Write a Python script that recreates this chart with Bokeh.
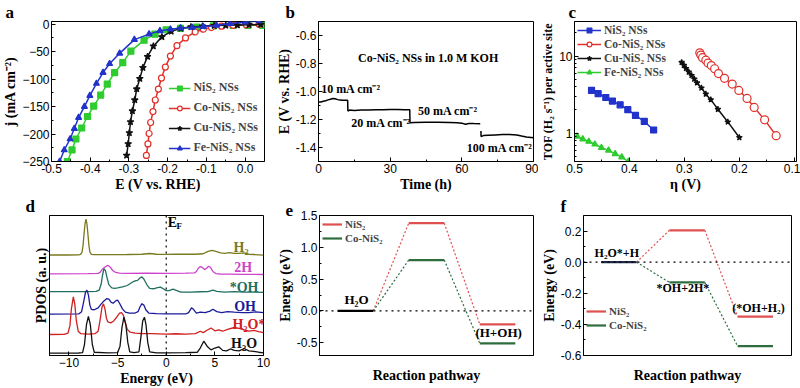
import math
from bokeh.plotting import figure
from bokeh.layouts import column, row
from bokeh.models import (Range1d, FixedTicker, PrintfTickFormatter, Label, Span,
                          Legend, LegendItem)
from bokeh.embed import file_html
from bokeh.resources import INLINE

SERIF = "Liberation Serif"
SANS = "Liberation Sans"
nan = float("nan")

# ---------------- data ----------------
# (a) HER polarization curves: E (V vs RHE), j (mA cm-2)
a_E_nis2 = [-0.459, -0.447, -0.437, -0.422, -0.407, -0.391, -0.373, -0.356, -0.337, -0.316,
            -0.295, -0.261, -0.233, -0.204, -0.167, -0.125, -0.082, -0.031, 0.007, 0.045]
a_j_nis2 = [-250, -229, -209, -189, -168, -149, -129, -109, -88, -70,
            -49, -29, -18, -10, -7.5, -5, -3, -2, -2, -2]
a_E_co = [-0.255, -0.251, -0.248, -0.244, -0.238, -0.232, -0.224, -0.216, -0.206, -0.193,
          -0.176, -0.154, -0.129, -0.108, -0.087, -0.061, -0.031, 0.003, 0.036]
a_j_co = [-239, -218, -199, -179, -159, -138, -118, -98, -78, -58,
          -39, -25, -14, -9, -6, -3.5, -2, -1, 0]
a_E_cu = [-0.306, -0.302, -0.299, -0.296, -0.291, -0.285, -0.280, -0.272, -0.264, -0.252,
          -0.237, -0.215, -0.191, -0.166, -0.14, -0.11, -0.08, -0.05, -0.02, 0.01, 0.04]
a_j_cu = [-239, -218, -198, -178, -158, -138, -118, -99, -79, -59,
          -40, -23, -13, -7.5, -5, -3.5, -2.5, -2, -1.5, -1, -0.5]
a_E_fe = [-0.479, -0.467, -0.452, -0.441, -0.430, -0.415, -0.401, -0.384, -0.367, -0.350,
          -0.324, -0.286, -0.248, -0.220, -0.193, -0.167, -0.137, -0.108, -0.074, -0.040, 0.0, 0.036]
a_j_fe = [-250, -229, -209, -190, -170, -150, -130, -108, -88, -72,
          -53, -28, -18, -12, -9, -7, -6, -4.6, -2, 1, 4, 6]
a_xticks = [-0.5, -0.4, -0.3, -0.2, -0.1, 0.0]
a_yticks = [0, -50, -100, -150, -200, -250]

# (b) chronopotentiometry of Co-NiS2 NSs: time (h), E (V vs RHE)
b_t = [0, 1, 2, 3, 4, 5, 6, 7, 8, 9, 10, 11, 12.2,
       12.3, 13, 15, 18, 21, 24, 27, 30, 33, 36, 38.2,
       38.3, 40, 45, 50, 55, 58, 60, 61.5, 63, 65, 67.7,
       nan,
       68, 68.05, 69, 71, 74, 77, 80, 83, 85, 87, 90]
b_E = [-1.075, -1.075, -1.07, -1.066, -1.06, -1.055, -1.05, -1.052, -1.058, -1.06, -1.062, -1.063, -1.063,
       -1.14, -1.133, -1.135, -1.133, -1.132, -1.13, -1.13, -1.128, -1.128, -1.13, -1.13,
       -1.224, -1.222, -1.22, -1.22, -1.222, -1.224, -1.226, -1.234, -1.228, -1.229, -1.23,
       nan,
       -1.282, -1.322, -1.315, -1.313, -1.31, -1.308, -1.308, -1.31, -1.318, -1.325, -1.33]
b_xticks = [0, 30, 60, 90]
b_yticks = [-0.6, -0.8, -1.0, -1.2, -1.4]

# (c) TOF vs overpotential
c_eta_nis2 = [0.469, 0.457, 0.443, 0.431, 0.417, 0.403, 0.389, 0.373, 0.356]
c_tof_nis2 = [3.58, 3.25, 2.90, 2.61, 2.33, 2.02, 1.70, 1.42, 1.10]
c_eta_co = [0.272, 0.270, 0.267, 0.261, 0.257, 0.251, 0.245, 0.238, 0.227, 0.213,
            0.201, 0.186, 0.173, 0.154, 0.133]
c_tof_co = [11.0, 10.3, 9.53, 8.84, 8.11, 7.52, 6.84, 5.93, 5.14, 4.33,
            3.58, 2.82, 2.16, 1.49, 0.93]
c_eta_cu = [0.305, 0.301, 0.297, 0.292, 0.287, 0.282, 0.277, 0.269, 0.261, 0.252, 0.239, 0.221, 0.200]
c_tof_cu = [8.27, 7.59, 6.90, 6.21, 5.60, 5.04, 4.49, 3.86, 3.22, 2.72, 2.04, 1.40, 0.88]
c_eta_fe = [0.495, 0.485, 0.474, 0.463, 0.451, 0.438, 0.426, 0.414, 0.402]
c_tof_fe = [0.91, 0.84, 0.78, 0.72, 0.65, 0.60, 0.54, 0.49, 0.43]
c_xticks = [0.5, 0.4, 0.3, 0.2, 0.1]
c_yticks = [1, 10]

# (d) PDOS curves (energy eV, stacked intensity a.u.)
d_h2 = [(-12, 107.7), (-10, 107.7), (-9, 107.8), (-8.8, 108.3), (-8.65, 111), (-8.55, 118), (-8.45, 130),
        (-8.35, 141), (-8.25, 146), (-8.15, 141), (-8.05, 130), (-7.95, 118), (-7.85, 111), (-7.7, 108.3),
        (-7.4, 108), (-6, 108), (-4, 108.2), (-2.5, 108.5), (-1.7, 109.3), (-1, 108.5), (0, 108.3),
        (1, 108.5), (2, 108.6), (3, 108.5), (3.8, 109), (4.3, 111.5), (4.7, 112.7), (5.1, 111.5),
        (5.6, 110), (6.0, 109.5), (6.5, 110.2), (7.0, 109.5), (7.5, 109.5), (8.0, 110), (8.5, 108.5),
        (9.0, 108.2), (10, 107.5)]
d_2h = [(-12, 87.5), (-8, 87.7), (-7.0, 88), (-6.8, 89), (-6.6, 92), (-6.4, 94), (-6.25, 95), (-6.05, 96.5),
        (-5.9, 96), (-5.7, 94), (-5.5, 91), (-5.2, 89), (-4.8, 88.3), (-4.0, 88), (-2, 88.2), (0, 88),
        (2, 88.3), (2.9, 88.5), (3.1, 90), (3.3, 93.5), (3.5, 95.3), (3.7, 94.5), (3.95, 92), (4.15, 93.5),
        (4.35, 95.6), (4.55, 94.5), (4.8, 90), (5.1, 87.8), (5.5, 87.3), (6.5, 87.2), (8, 87), (10, 86.8)]
d_ohads = [(-12, 68.5), (-8, 68.5), (-7.2, 68.7), (-6.9, 70), (-6.7, 76), (-6.55, 86), (-6.4, 93), (-6.25, 91),
           (-6.1, 84), (-5.9, 76), (-5.6, 72.5), (-5.3, 72), (-5.0, 72.5), (-4.5, 73.5), (-4.0, 75),
           (-3.5, 78.5), (-3.2, 80), (-2.95, 80.5), (-2.7, 83), (-2.5, 84.3), (-2.3, 82), (-2.0, 76),
           (-1.7, 72), (-1.3, 71.5), (-0.9, 72.8), (-0.6, 73.3), (-0.3, 71.5), (0, 69.5), (0.3, 69.5),
           (0.7, 71), (1.1, 69.5), (1.5, 68), (2.5, 68), (3.5, 68.3), (4.3, 68.5), (4.8, 70), (5.2, 68.8),
           (6, 68), (7, 68.5), (8, 68), (9, 68), (10, 67.7)]
d_oh = [(-12, 44.3), (-9, 44.5), (-8.7, 47), (-8.5, 57), (-8.3, 68), (-8.15, 70), (-8.0, 65), (-7.85, 54),
        (-7.7, 49.5), (-7.4, 49), (-7.0, 51), (-6.7, 55), (-6.4, 58.5), (-6.1, 61), (-5.9, 60.5),
        (-5.65, 57), (-5.45, 56), (-5.2, 58.5), (-5.0, 59.3), (-4.8, 56), (-4.5, 50), (-4.2, 46.5),
        (-3.8, 45.5), (-3.2, 45.5), (-2.9, 47), (-2.7, 52), (-2.5, 55.5), (-2.3, 54), (-2.1, 49),
        (-1.8, 45.5), (-1.0, 44.8), (0, 44.5), (1, 44.5), (2.0, 44.5), (2.3, 46), (2.6, 51), (2.8, 49.5),
        (3.1, 45.5), (3.5, 46.5), (4.0, 46), (4.5, 47.5), (4.8, 49.5), (5.2, 47), (5.7, 46), (6.3, 47),
        (7.0, 46.5), (7.8, 46), (8.5, 46), (9.2, 46.8), (10, 46)]
d_h2oads = [(-12, 22.5), (-10.5, 22.7), (-10.1, 24), (-9.9, 32), (-9.75, 50), (-9.55, 62.7), (-9.4, 55),
            (-9.25, 38), (-9.05, 26), (-8.8, 23.5), (-8, 23), (-7.3, 23.5), (-7.0, 26), (-6.8, 38),
            (-6.6, 52), (-6.45, 55.3), (-6.3, 50), (-6.15, 40), (-6.0, 36), (-5.7, 35), (-5.4, 37),
            (-5.1, 41), (-4.8, 45.5), (-4.6, 46), (-4.4, 43), (-4.2, 35), (-4.0, 28), (-3.7, 25),
            (-3.2, 24), (-2.5, 23.5), (-1.5, 23.5), (0, 23), (1.0, 23.3), (2.0, 23), (3.0, 23.5),
            (3.5, 26), (3.8, 24.5), (4.2, 27), (4.6, 29.5), (5.0, 26.5), (5.4, 27.5), (5.8, 26),
            (6.3, 28), (7.0, 30), (7.5, 29), (8.0, 27.5), (8.5, 26), (9.0, 27), (9.5, 25.5), (10, 24.5)]
d_h2o = [(-12, 2.5), (-9, 2.7), (-8.6, 3), (-8.4, 12), (-8.2, 33), (-8.0, 42), (-7.8, 33), (-7.6, 12),
         (-7.4, 3.5), (-6, 2.8), (-5.0, 3), (-4.75, 10), (-4.55, 30), (-4.35, 41), (-4.15, 33),
         (-3.95, 14), (-3.75, 4), (-3.3, 3), (-2.8, 4), (-2.6, 20), (-2.42, 37), (-2.24, 41),
         (-2.08, 33), (-1.9, 14), (-1.7, 4), (-1, 2.8), (0, 2.8), (2, 3), (3.2, 3.5), (3.5, 8),
         (3.86, 15.3), (4.2, 10), (4.6, 6), (5.0, 8), (5.4, 9.3), (5.8, 5.5), (6.2, 5), (6.6, 7),
         (7.0, 5.5), (7.5, 5), (8.0, 7.5), (8.5, 5), (9.0, 4.5), (9.5, 3.5), (10, 2.8)]
d_names = ["H\u2082", "2H", "*OH", "OH", "H\u2082O*", "H\u2082O"]
d_xticks = [-10, -5, 0, 5, 10]

# (e) water dissociation energy profile (eV)
e_labels = ["H\u2082O", "", "(H+OH)"]
e_nis2 = [0.0, 1.38, -0.21]
e_conis2 = [0.0, 0.80, -0.51]
e_yticks = [-0.5, 0.0, 0.5, 1.0, 1.5]

# (f) H2 formation energy profile (eV)
f_labels = ["H\u2082O*+H", "*OH+2H*", "(*OH+H\u2082)"]
f_nis2 = [0.0, 0.205, -0.35]
f_conis2 = [0.0, -0.13, -0.54]
f_yticks = [-0.6, -0.4, -0.2, 0.0, 0.2]

# ---------------- colours ----------------
C_GREEN = "#2ecc2e"
C_RED = "#e0302a"
C_BLUE = "#2233cc"
C_BLACK = "#111111"
C_LV_RED = "#e05050"
C_LV_GREEN = "#2e6e3e"
D_COLORS = ["#7a7a20", "#cc44cc", "#1f6f60", "#1a1a9a", "#d02020", "#111111"]


def make_fig(w, h, xr, yr, bl, br, bb, letter, offset, y_axis_type="linear"):
    p = figure(width=w, height=h, x_range=xr, y_range=yr, y_axis_type=y_axis_type,
               output_backend="svg", toolbar_location=None, title=letter,
               min_border_left=bl, min_border_right=br, min_border_top=0, min_border_bottom=bb)
    p.title.align = "left"
    p.title.offset = offset
    p.title.standoff = 0
    p.title.text_font = SERIF
    p.title.text_font_style = "bold"
    p.title.text_font_size = "17px"
    p.title.text_color = "black"
    p.outline_line_color = "black"
    p.outline_line_width = 1
    p.outline_line_alpha = 1
    p.grid.visible = False
    p.background_fill_color = "white"
    p.border_fill_color = "white"
    for ax in p.axis:
        ax.axis_line_color = "black"
        ax.major_tick_in = 4
        ax.major_tick_out = 0
        ax.minor_tick_in = 2
        ax.minor_tick_out = 0
        ax.major_tick_line_color = "black"
        ax.minor_tick_line_color = "black"
        ax.major_label_text_font = SANS
        ax.major_label_text_font_size = "12px"
        ax.major_label_text_color = "black"
        ax.axis_label_text_font = SERIF
        ax.axis_label_text_font_style = "bold"
        ax.axis_label_text_font_size = "14px"
        ax.axis_label_text_color = "black"
        ax.major_label_standoff = 2
        ax.axis_label_standoff = 1
    return p


def style_legend(lg, size="12px", gw=24, spacing=5):
    lg.background_fill_alpha = 0
    lg.border_line_alpha = 0
    lg.label_text_font = SERIF
    lg.label_text_font_style = "bold"
    lg.label_text_font_size = size
    lg.glyph_height = 12
    lg.glyph_width = gw
    lg.label_height = 12
    lg.label_standoff = 3
    lg.spacing = spacing
    lg.padding = 2
    lg.margin = 4


def text(p, x, y, t, size="12px", color="black", align="left", baseline="middle"):
    p.add_layout(Label(x=x, y=y, text=t, text_font=SERIF, text_font_style="bold",
                       text_font_size=size, text_color=color, text_align=align,
                       text_baseline=baseline))


TOP_H = 194
BOT_H = 194
BB_TOP = 31
BB_BOT = 33

# ---------------- (a) ----------------
pa = make_fig(270, TOP_H, Range1d(-0.5, 0.05), Range1d(-250, 5), 49, 6, BB_TOP, "a", -46)
pa.xaxis.ticker = FixedTicker(ticks=a_xticks, minor_ticks=[-0.45, -0.35, -0.25, -0.15, -0.05])
pa.yaxis.ticker = FixedTicker(ticks=a_yticks, minor_ticks=[-25, -75, -125, -175, -225])
pa.xaxis.formatter = PrintfTickFormatter(format="%.1f")
pa.xaxis.axis_label = "E (V vs. RHE)"
pa.yaxis.axis_label = "j (mA cm\u207b\u00b2)"
series_a = [
    (a_E_nis2, a_j_nis2, C_GREEN, "square", C_GREEN, "NiS\u2082 NSs"),
    (a_E_co, a_j_co, C_RED, "circle", "white", "Co-NiS\u2082 NSs"),
    (a_E_cu, a_j_cu, C_BLACK, "star", C_BLACK, "Cu-NiS\u2082 NSs"),
    (a_E_fe, a_j_fe, C_BLUE, "triangle", C_BLUE, "Fe-NiS\u2082 NSs"),
]
items = []
for xs, ys, col, mk, fill, lab in series_a:
    r1 = pa.line(xs, ys, line_color=col, line_width=1.5)
    r2 = pa.scatter(xs, ys, marker=mk, size=6 if mk != "star" else 7, line_color=col,
                    fill_color=fill, line_width=1.2)
    items.append(LegendItem(label=lab, renderers=[r1, r2]))
lga = Legend(items=items, location="bottom_right")
style_legend(lga, gw=22, spacing=5)
pa.add_layout(lga)

# ---------------- (b) ----------------
pb = make_fig(268, TOP_H, Range1d(0, 90), Range1d(-1.5, -0.5), 48, 5, BB_TOP, "b", -33)
pb.xaxis.ticker = FixedTicker(ticks=b_xticks, minor_ticks=[15, 45, 75])
pb.yaxis.ticker = FixedTicker(ticks=b_yticks, minor_ticks=[-0.5, -0.7, -0.9, -1.1, -1.3, -1.5])
pb.yaxis.formatter = PrintfTickFormatter(format="%.1f")
pb.xaxis.axis_label = "Time (h)"
pb.yaxis.axis_label = "E (V vs. RHE)"
pb.line(b_t, b_E, line_color="black", line_width=1.5)
text(pb, 45.9, -0.758, "Co-NiS\u2082 NSs in 1.0 M KOH", size="12px", align="center")
text(pb, 1.1, -0.984, "10 mA cm\u207b\u00b2", size="12px")
text(pb, 13.7, -1.222, "20 mA cm\u207b\u00b2", size="12px")
text(pb, 41.7, -1.14, "50 mA cm\u207b\u00b2", size="12px")
text(pb, 62.1, -1.404, "100 mA cm\u207b\u00b2", size="12px")

# ---------------- (c) ----------------
pc = make_fig(262, TOP_H, Range1d(0.5, 0.096), Range1d(0.43, 28), 36, 4, BB_TOP, "c", -6,
              y_axis_type="log")
pc.xaxis.ticker = FixedTicker(ticks=c_xticks, minor_ticks=[0.45, 0.35, 0.25, 0.15])
pc.yaxis.ticker = FixedTicker(ticks=c_yticks,
                              minor_ticks=[0.5, 0.6, 0.7, 0.8, 0.9, 2, 3, 4, 5, 6, 7, 8, 9, 20])
pc.xaxis.formatter = PrintfTickFormatter(format="%.1f")
pc.yaxis.formatter = PrintfTickFormatter(format="%g")
pc.xaxis.axis_label = "\u03b7 (V)"
pc.yaxis.axis_label = "TOF (H\u2082 s\u207b\u00b9) per active site"
pc.yaxis.axis_label_text_font_size = "12px"
series_c = [
    (c_eta_nis2, c_tof_nis2, C_BLUE, "square", C_BLUE, "NiS\u2082 NSs"),
    (c_eta_co, c_tof_co, C_RED, "circle", "white", "Co-NiS\u2082 NSs"),
    (c_eta_cu, c_tof_cu, C_BLACK, "star", C_BLACK, "Cu-NiS\u2082 NSs"),
    (c_eta_fe, c_tof_fe, C_GREEN, "triangle", C_GREEN, "Fe-NiS\u2082 NSs"),
]
items = []
for xs, ys, col, mk, fill, lab in series_c:
    r1 = pc.line(xs, ys, line_color=col, line_width=1.5)
    r2 = pc.scatter(xs, ys, marker=mk, size=6 if mk != "circle" else 8, line_color=col,
                    fill_color=fill, line_width=1.2)
    items.append(LegendItem(label=lab, renderers=[r1, r2]))
lgc = Legend(items=items, location="top_left")
style_legend(lgc, size="11.5px", gw=24, spacing=2)
lgc.margin = 2
lgc.padding = 1
pc.add_layout(lgc)

# ---------------- (d) ----------------
pd_ = make_fig(270, BOT_H, Range1d(-12, 10), Range1d(0, 150), 49, 7, BB_BOT, "d", -24)
pd_.xaxis.ticker = FixedTicker(ticks=d_xticks, minor_ticks=[-12.5, -7.5, -2.5, 2.5, 7.5])
pd_.yaxis.ticker = FixedTicker(ticks=[])
pd_.xaxis.axis_label = "Energy (eV)"
pd_.yaxis.axis_label = "PDOS (a. u.)"
d_curves = [d_h2, d_2h, d_ohads, d_oh, d_h2oads, d_h2o]
d_label_pos = [(7.7, 116), (7.9, 94), (8.0, 73), (8.1, 53), (8.5, 33), (8.0, 13)]
for curve, col, name, (lx, ly) in zip(d_curves, D_COLORS, d_names, d_label_pos):
    xs = [c[0] for c in curve]
    ys = [c[1] for c in curve]
    pd_.line(xs, ys, line_color=col, line_width=1.3)
    text(pd_, lx, ly, name, size="14px", color=col, align="center")
pd_.add_layout(Span(location=0, dimension="height", line_color="black", line_width=1.2,
                    line_dash="dotted"))
text(pd_, 0.15, 135, "E", size="14px", baseline="bottom")
text(pd_, 1.05, 133, "F", size="9px", baseline="bottom")

# ---------------- (e) ----------------
pe = make_fig(268, BOT_H, Range1d(0, 10), Range1d(-0.7, 1.5), 49, 5, BB_BOT, "e", -34)
pe.xaxis.ticker = FixedTicker(ticks=[])
pe.xaxis.axis_label_standoff = 12
pe.yaxis.ticker = FixedTicker(ticks=e_yticks, minor_ticks=[-0.25, 0.25, 0.75, 1.25])
pe.yaxis.formatter = PrintfTickFormatter(format="%.1f")
pe.xaxis.axis_label = "Reaction pathway"
pe.yaxis.axis_label = "Energy (eV)"
pe.add_layout(Span(location=0, dimension="width", line_color="black", line_width=1.2,
                   line_dash="dotted"))


def profile(p, centers, hw, vals_red, vals_green, first_color):
    rr = rg = None
    for vals, col in ((vals_red, C_LV_RED), (vals_green, C_LV_GREEN)):
        for i in range(len(vals) - 1):
            p.line([centers[i] + hw, centers[i + 1] - hw], [vals[i], vals[i + 1]],
                   line_color=col, line_width=1.2, line_dash="2 2")
        r = p.segment(x0=[c - hw for c in centers[1:]], x1=[c + hw for c in centers[1:]],
                      y0=vals[1:], y1=vals[1:], line_color=col, line_width=2.2)
        if col == C_LV_RED:
            rr = r
        else:
            rg = r
    p.segment(x0=[centers[0] - hw], x1=[centers[0] + hw], y0=[vals_red[0]], y1=[vals_red[0]],
              line_color=first_color, line_width=2.2)
    return rr, rg


e_centers = [1.68 + 3.32 * i for i in range(3)]
rr, rg = profile(pe, e_centers, 0.83, e_nis2, e_conis2, "black")
lge = Legend(items=[LegendItem(label="NiS\u2082", renderers=[rr]),
                    LegendItem(label="Co-NiS\u2082", renderers=[rg])], location="top_left")
style_legend(lge, size="11px", gw=20, spacing=2)
lge.margin = 1
pe.add_layout(lge)
text(pe, e_centers[0] + 0.05, 0.07, e_labels[0], size="13px", align="center", baseline="bottom")
text(pe, e_centers[2] + 0.05, -0.345, e_labels[2], size="13px", align="center")

# ---------------- (f) ----------------
pf = make_fig(262, BOT_H, Range1d(0, 10), Range1d(-0.6, 0.3), 37, 9, BB_BOT, "f", -23)
pf.xaxis.ticker = FixedTicker(ticks=[])
pf.xaxis.axis_label_standoff = 12
pf.yaxis.ticker = FixedTicker(ticks=f_yticks, minor_ticks=[-0.5, -0.3, -0.1, 0.1])
pf.yaxis.formatter = PrintfTickFormatter(format="%.1f")
pf.xaxis.axis_label = "Reaction pathway"
pf.yaxis.axis_label = "Energy (eV)"
pf.add_layout(Span(location=0, dimension="width", line_color="black", line_width=1.2,
                   line_dash="dotted"))
f_centers = [1.70 + 3.28 * i for i in range(3)]
rr, rg = profile(pf, f_centers, 0.85, f_nis2, f_conis2, "#1f2a48")
lgf = Legend(items=[LegendItem(label="NiS\u2082", renderers=[rr]),
                    LegendItem(label="Co-NiS\u2082", renderers=[rg])], location=(1, 22))
style_legend(lgf, size="11px", gw=20, spacing=2)
lgf.margin = 0
pf.add_layout(lgf)
text(pf, f_centers[0] - 0.1, 0.015, f_labels[0], size="12px", align="center", baseline="bottom")
text(pf, f_centers[1] - 0.2, -0.165, f_labels[1], size="12px", align="center")
text(pf, f_centers[2] + 0.15, -0.295, f_labels[2], size="12px", align="center")

layout = column(row(pa, pb, pc), row(pd_, pe, pf))
open("out.html", "w").write(file_html(layout, INLINE))
